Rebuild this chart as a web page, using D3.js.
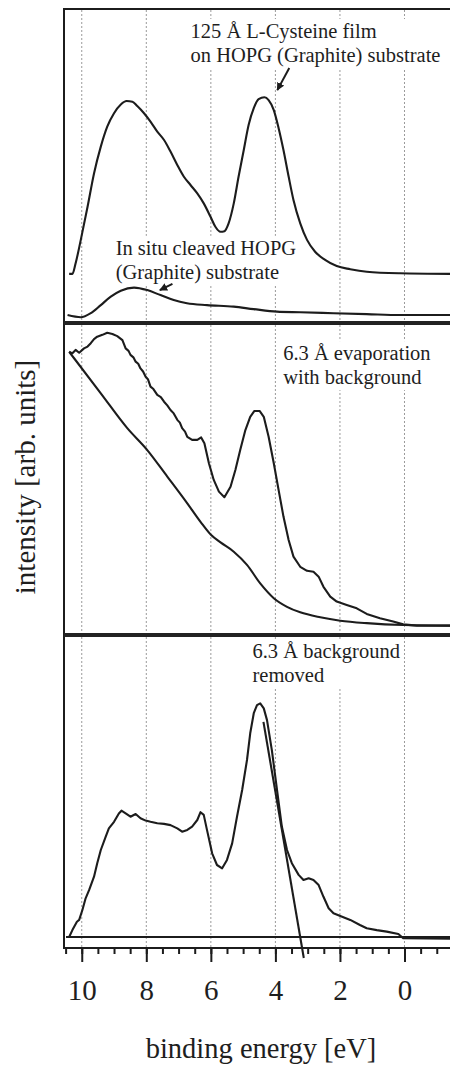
<!DOCTYPE html>
<html>
<head>
<meta charset="utf-8">
<script src="https://cdn.jsdelivr.net/npm/d3@7"></script>
<style>
  html, body { margin: 0; padding: 0; background: #fff; }
  svg { display: block; }
  text { font-family: "Liberation Serif", "Times New Roman", serif; fill: #1e1e1e; }
</style>
</head>
<body>
<svg id="chart" width="450" height="1067"></svg>
<script>
// ---- data: [binding energy (eV), intensity (arb. units, 0–100 of panel height)] ----

// top panel: 125 Å L-cysteine film on HOPG
const filmSpectrum = [
  [10.39,15.1],[10.29,15.1],[10.19,18.5],[10.03,26.0],[9.82,36.6],[9.62,47.3],[9.41,55.9],
  [9.21,62.3],[9.00,66.6],[8.79,69.4],[8.61,70.5],[8.43,70.3],[8.28,68.9],[8.07,66.6],
  [7.87,63.9],[7.66,60.7],[7.45,58.0],[7.25,54.3],[7.04,50.0],[6.84,46.3],[6.63,43.6],
  [6.42,40.9],[6.22,37.7],[6.01,33.4],[5.86,30.2],[5.70,28.6],[5.58,28.8],[5.45,31.3],
  [5.29,37.7],[5.14,46.3],[4.98,54.8],[4.83,62.8],[4.67,68.2],[4.52,71.1],[4.34,71.7],
  [4.21,70.8],[4.05,67.6],[3.90,61.8],[3.75,54.8],[3.59,46.3],[3.44,38.8],[3.23,31.3],
  [3.02,26.0],[2.77,22.2],[2.46,19.6],[2.10,17.6],[1.68,16.6],[1.17,15.8],[0.14,15.3],[-1.41,15.1]
];

// top panel: in situ cleaved HOPG substrate
const hopgSpectrum = [
  [10.44,1.9],[10.03,1.2],[9.72,2.5],[9.41,5.1],[9.10,7.8],[8.79,9.7],[8.38,10.7],[7.97,9.9],
  [7.56,8.3],[7.15,6.7],[6.74,5.7],[6.12,5.1],[5.29,4.6],[4.67,3.8],[3.95,3.0],[3.23,2.8],
  [2.20,2.5],[1.17,2.2],[0.14,1.9],[-1.41,1.9]
];

// middle panel: 6.3 Å evaporation, raw spectrum
const rawSpectrum = [
  [10.39,91.3],[10.29,90.8],[10.19,91.9],[10.08,91.0],[9.93,92.4],[9.82,93.0],[9.72,94.1],
  [9.62,95.4],[9.52,96.2],[9.36,96.8],[9.21,97.5],[9.05,97.1],[8.90,96.4],[8.80,95.6],
  [8.74,95.1],[8.64,92.4],[8.55,91.6],[8.49,90.3],[8.40,89.5],[8.33,88.1],[8.25,87.4],
  [8.18,85.9],[8.10,84.9],[8.02,83.2],[7.95,82.4],[7.87,80.0],[7.78,79.2],[7.66,77.3],
  [7.55,76.6],[7.45,75.1],[7.35,73.9],[7.25,72.4],[7.15,71.3],[7.04,69.2],[6.96,68.3],
  [6.89,66.5],[6.80,65.4],[6.73,63.7],[6.58,62.7],[6.42,62.7],[6.30,63.5],[6.20,61.6],
  [6.06,55.1],[5.91,49.7],[5.75,45.9],[5.58,44.1],[5.39,47.5],[5.24,52.9],[5.09,59.4],
  [4.93,65.9],[4.78,70.2],[4.65,72.1],[4.49,72.1],[4.36,70.2],[4.21,63.7],[4.05,55.1],
  [3.90,46.4],[3.75,37.8],[3.59,30.2],[3.44,24.8],[3.23,21.5],[3.02,20.2],[2.82,19.9],
  [2.66,18.3],[2.51,15.0],[2.30,11.8],[2.10,10.2],[1.79,9.1],[1.48,8.0],[1.17,6.2],
  [0.76,4.8],[0.35,3.7],[0.04,2.8],[-0.38,2.4],[-1.41,2.4]
];

// middle panel: inelastic background
const backgroundCurve = [
  [10.39,91.3],[9.41,77.8],[8.59,66.5],[7.97,59.4],[7.35,50.8],[6.73,42.1],[6.32,36.1],
  [5.99,31.8],[5.70,29.4],[5.29,26.4],[4.88,22.1],[4.47,16.1],[4.05,11.3],[3.64,8.5],
  [3.23,6.7],[2.61,5.1],[1.99,4.0],[1.17,3.2],[0.04,2.6],[-1.41,2.4]
];

// bottom panel: 6.3 Å spectrum after background subtraction
const subtractedSpectrum = [
  [10.39,0.0],[10.29,2.3],[10.15,5.1],[10.08,5.7],[9.98,9.0],[9.88,12.9],[9.77,15.7],
  [9.62,20.1],[9.52,24.6],[9.41,29.0],[9.26,33.4],[9.16,36.2],[9.00,38.4],[8.85,41.2],
  [8.77,42.1],[8.64,41.2],[8.49,40.1],[8.33,41.0],[8.18,39.6],[8.02,38.8],[7.87,38.4],
  [7.66,37.9],[7.45,37.7],[7.25,37.3],[7.04,36.2],[6.89,35.1],[6.73,35.7],[6.58,36.8],
  [6.42,39.0],[6.32,41.6],[6.22,40.7],[6.12,35.7],[5.96,27.9],[5.81,24.0],[5.65,22.9],
  [5.50,25.7],[5.34,31.2],[5.19,40.1],[5.03,49.0],[4.88,59.0],[4.78,67.9],[4.67,74.6],
  [4.57,77.3],[4.47,77.9],[4.36,76.2],[4.26,72.3],[4.11,62.3],[3.95,49.0],[3.80,36.8],
  [3.64,29.0],[3.49,24.6],[3.28,20.7],[3.13,19.0],[2.97,19.6],[2.82,19.0],[2.66,17.3],
  [2.51,13.4],[2.35,9.6],[2.20,7.9],[1.99,7.0],[1.68,5.7],[1.38,4.0],[1.17,2.9],
  [0.86,2.3],[0.55,1.8],[0.19,1.0],[0.04,-0.4],[-1.41,-0.6]
];

// bottom panel: linear extrapolation of the leading edge
const edgeFit = [[4.37,71.7],[3.12,-7.0]];

// axis ticks
const majorTicks = [10, 8, 6, 4, 2, 0];
const minorTicks = d3.range(-1, 10.51, 0.5);

// panel annotations
const panelNotes = [
  { panel: 0, e: 6.63, v: 90.7, lines: ["125 Å L-Cysteine film", "on HOPG (Graphite) substrate"] },
  { panel: 0, e: 8.95, v: 21.2, lines: ["In situ cleaved HOPG", "(Graphite) substrate"] },
  { panel: 1, e: 3.76, v: 88.6, lines: ["6.3 Å evaporation", "with background"] },
  { panel: 2, e: 4.71, v: 93.0, lines: ["6.3 Å background", "removed"] }
];
const arrows = [
  { panel: 0, from: [3.57, 81.1], to: [3.94, 74.0] },
  { panel: 0, from: [7.19, 11.9], to: [7.58, 9.9] }
];

// ---- layout ----
const plotLeft = 64, plotRight = 450, frameTop = 9, axisY = 948;
const panels = [
  { y0: 321, y1: 9,   gridTop: 10,  gridBottom: 321 },
  { y0: 633, y1: 325, gridTop: 325, gridBottom: 633 },
  { y0: 937, y1: 637, gridTop: 637, gridBottom: 947 }
];
const separators = [323, 635];
const ink = "#1c1c1c";

const svg = d3.select("#chart");

const x = d3.scaleLinear().domain([10.55, -1.41]).range([plotLeft, plotRight]);
const yScales = panels.map(p => d3.scaleLinear().domain([0, 100]).range([p.y0, p.y1]));

// dotted vertical grid at the labelled energies
panels.forEach(p => {
  svg.append("g").selectAll("line").data(majorTicks).join("line")
    .attr("x1", d => x(d)).attr("x2", d => x(d))
    .attr("y1", p.gridTop).attr("y2", p.gridBottom)
    .attr("stroke", "#9a9a9a").attr("stroke-width", 1)
    .attr("stroke-dasharray", "2,2");
});

// annotation text on white boxes
const noteG = svg.append("g");
panelNotes.forEach(n => {
  const y = yScales[n.panel];
  const g = noteG.append("g");
  const t = g.append("text")
    .attr("x", x(n.e)).attr("y", y(n.v))
    .style("font-size", "20.5px");
  n.lines.forEach((s, i) => {
    t.append("tspan").attr("x", x(n.e)).attr("dy", i === 0 ? 0 : 24).text(s);
  });
  const bb = t.node().getBBox();
  g.insert("rect", "text")
    .attr("x", bb.x - 3).attr("y", bb.y - 1)
    .attr("width", bb.width + 6).attr("height", bb.height + 2)
    .attr("fill", "#fff");
});

// spectra
const lineFor = (ys, curve) => d3.line()
  .x(d => x(d[0])).y(d => ys(d[1])).curve(curve);

const drawCurve = (data, panel, curve) => svg.append("path")
  .datum(data)
  .attr("d", lineFor(yScales[panel], curve))
  .attr("fill", "none").attr("stroke", ink)
  .attr("stroke-width", 2.1).attr("stroke-linejoin", "round");

drawCurve(filmSpectrum, 0, d3.curveMonotoneX);
drawCurve(hopgSpectrum, 0, d3.curveMonotoneX);
drawCurve(rawSpectrum, 1, d3.curveLinear);
drawCurve(backgroundCurve, 1, d3.curveMonotoneX);
drawCurve(subtractedSpectrum, 2, d3.curveLinear);
drawCurve(edgeFit, 2, d3.curveLinear);

// zero line of the bottom panel
svg.append("line")
  .attr("x1", plotLeft + 2).attr("x2", plotRight)
  .attr("y1", yScales[2](0)).attr("y2", yScales[2](0))
  .attr("stroke", ink).attr("stroke-width", 2);

// arrows
svg.append("defs").append("marker")
  .attr("id", "head").attr("viewBox", "0 0 10 10")
  .attr("refX", 9).attr("refY", 5)
  .attr("markerWidth", 4).attr("markerHeight", 4)
  .attr("markerUnits", "strokeWidth")
  .attr("orient", "auto")
  .append("path").attr("d", "M0,0 L10,5 L0,10 z").attr("fill", ink);

arrows.forEach(a => {
  const y = yScales[a.panel];
  svg.append("line")
    .attr("x1", x(a.from[0])).attr("y1", y(a.from[1]))
    .attr("x2", x(a.to[0])).attr("y2", y(a.to[1]))
    .attr("stroke", ink).attr("stroke-width", 2)
    .attr("marker-end", "url(#head)");
});

// frame and panel separators
svg.append("line").attr("x1", plotLeft).attr("x2", plotLeft).attr("y1", frameTop - 1).attr("y2", axisY + 1)
  .attr("stroke", ink).attr("stroke-width", 2);
svg.append("line").attr("x1", plotLeft).attr("x2", plotRight).attr("y1", frameTop).attr("y2", frameTop)
  .attr("stroke", ink).attr("stroke-width", 2);
separators.forEach(s => {
  svg.append("line").attr("x1", plotLeft).attr("x2", plotRight).attr("y1", s).attr("y2", s)
    .attr("stroke", "#222").attr("stroke-width", 4);
});

// bottom energy axis
const minorAxis = d3.axisBottom(x).tickValues(minorTicks).tickSize(6).tickFormat("");
const majorAxis = d3.axisBottom(x).tickValues(majorTicks).tickSize(14).tickPadding(17)
  .tickFormat(d3.format("d"));

const gMinor = svg.append("g").attr("transform", `translate(0,${axisY})`).call(minorAxis);
gMinor.select(".domain").remove();
gMinor.selectAll("line").attr("stroke", ink).attr("stroke-width", 2);

const gMajor = svg.append("g").attr("transform", `translate(0,${axisY})`).call(majorAxis);
gMajor.select(".domain").remove();
gMajor.selectAll("line").attr("stroke", ink).attr("stroke-width", 2);
gMajor.selectAll("text")
  .style("font-family", "'Liberation Serif', 'Times New Roman', serif")
  .style("font-size", "29px").attr("fill", "#1e1e1e");

svg.append("line").attr("x1", plotLeft).attr("x2", plotRight).attr("y1", axisY).attr("y2", axisY)
  .attr("stroke", ink).attr("stroke-width", 2);

// axis titles
svg.append("text")
  .attr("x", 261).attr("y", 1058)
  .attr("text-anchor", "middle")
  .style("font-size", "28.5px")
  .text("binding energy [eV]");

svg.append("text")
  .attr("transform", "translate(35,477) rotate(-90)")
  .attr("text-anchor", "middle")
  .style("font-size", "29px")
  .text("intensity [arb. units]");
</script>
</body>
</html>
